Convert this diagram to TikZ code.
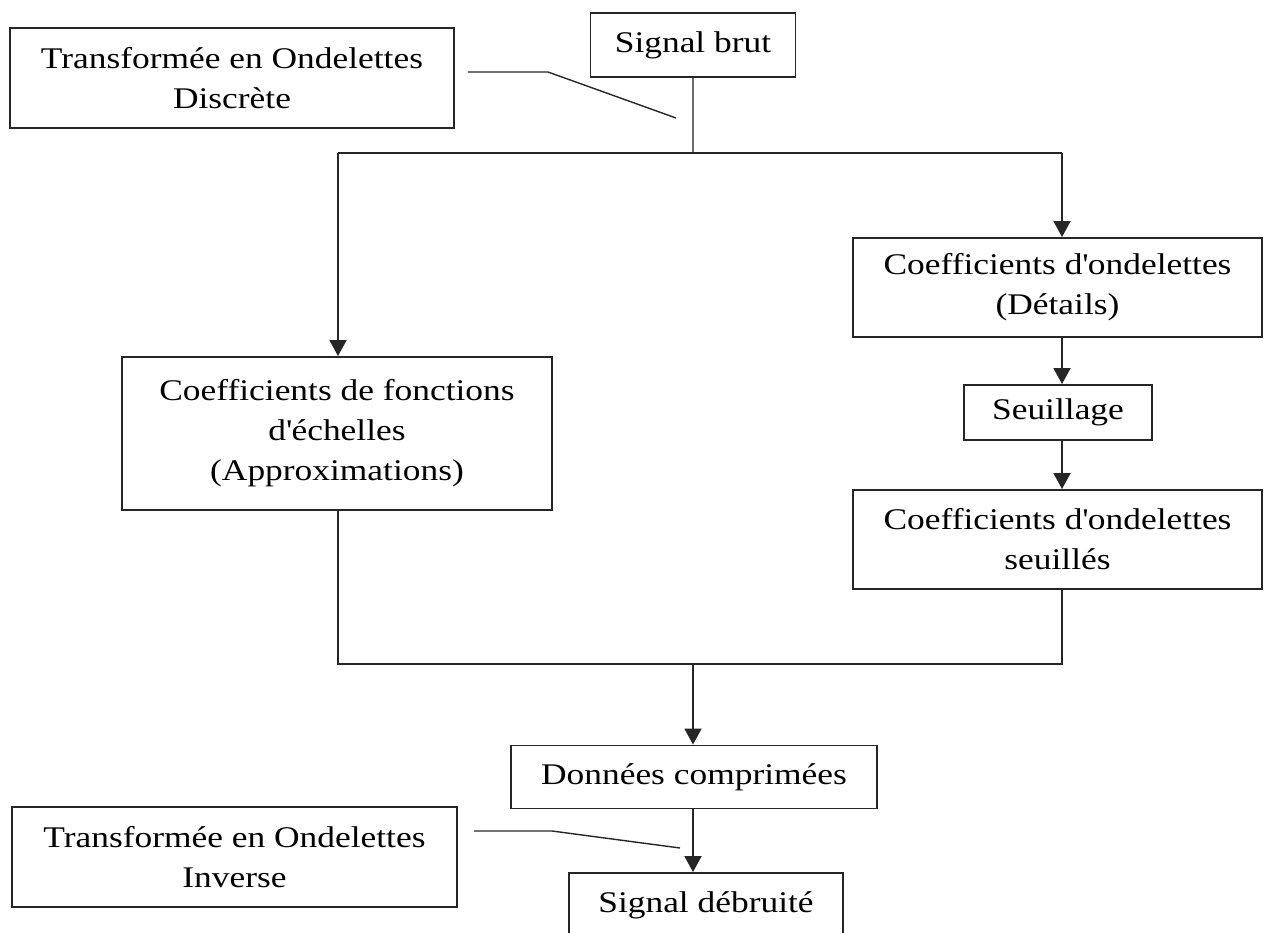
\documentclass[tikz,border=0pt]{standalone}
\usepackage{fontspec}
\setmainfont{Liberation Serif}[FakeStretch=1.18]
\usetikzlibrary{arrows.meta}
\newcommand{\ap}{\textquotesingle}
\begin{document}
\begin{tikzpicture}[x=1pt,y=-1pt,
  box/.style={draw=black!85, line width=1.9pt, rectangle, inner sep=0pt, align=center, font=\fontsize{30}{40}\selectfont},
  conn/.style={draw=black!85, line width=1.9pt},
  arr/.style={conn, -{Triangle[width=17pt,length=16pt]}},
  pointer/.style={draw=black!85, line width=1.4pt},
]
\useasboundingbox (0,0) rectangle (1264,933);
\clip (0,0) rectangle (1264,933);

\node[box, minimum width=444, minimum height=100] (tod) at (232,78) {Transformée en Ondelettes\\Discrète};
\node[box, minimum width=205, minimum height=64] (sig) at (693,45) {Signal brut};
\node[box, minimum width=409, minimum height=99] (det) at (1057.5,287.5) {Coefficients d\ap ondelettes\\(Détails)};
\node[box, minimum width=188, minimum height=55] (seuil) at (1058,412.5) {Seuillage};
\node[box, minimum width=409, minimum height=99] (seuils) at (1057.5,539.5) {Coefficients d\ap ondelettes\\seuillés};
\node[box, minimum width=430, minimum height=153] (approx) at (337,433.5) {Coefficients de fonctions\\d\ap échelles\\(Approximations)};
\node[box, minimum width=366, minimum height=63] (don) at (694,777) {Données comprimées};
\node[box, minimum width=274, minimum height=64] (deb) at (706,905) {Signal débruité};
\node[box, minimum width=445, minimum height=100] (inv) at (234.5,857) {Transformée en Ondelettes\\Inverse};

\coordinate (tl) at (338,153);
\coordinate (tr) at (1062,153);
\coordinate (tm) at (693,153);
\coordinate (bl) at (338,664);
\coordinate (br) at (1062,664);
\coordinate (bm) at (693,664);

\draw[conn, draw=gray!85!black, line width=2.2pt] (sig.south) -- (tm);
\draw[conn] (tl) -- (tr);
\draw[arr] (tl) -- (tl |- approx.north);
\draw[arr] (tr) -- (tr |- det.north);
\draw[arr] (tr |- det.south) -- (tr |- seuil.north);
\draw[arr] (tr |- seuil.south) -- (tr |- seuils.north);
\draw[conn] (bl |- approx.south) -- (bl) -- (br) -- (tr |- seuils.south);
\draw[arr] (bm) -- (bm |- don.north);
\draw[arr] (bm |- don.south) -- (bm |- deb.north);

\coordinate (p1) at (548,72);
\coordinate (p1e) at (676,118);
\draw[pointer] ([xshift=13pt]tod.east |- p1) -- (p1) -- (p1e);
\coordinate (p2) at (552,831);
\coordinate (p2e) at (680,848);
\draw[pointer] ([xshift=16pt]inv.east |- p2) -- (p2) -- (p2e);
\end{tikzpicture}
\end{document}
